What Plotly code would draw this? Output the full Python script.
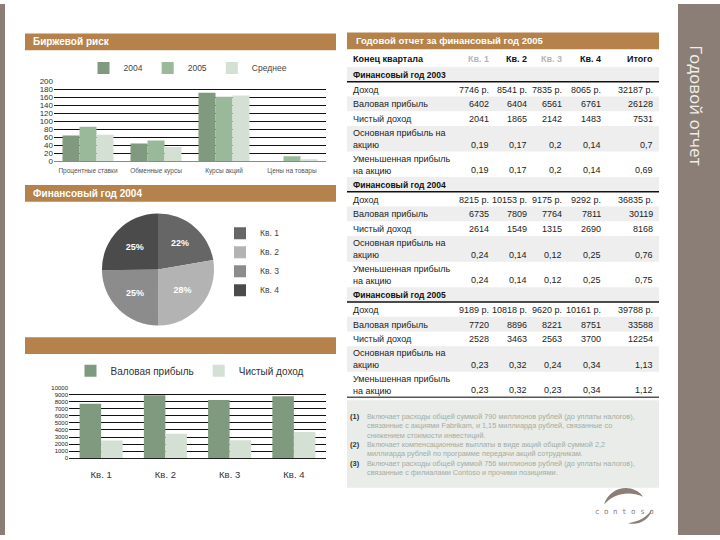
import plotly.graph_objects as go

W, H = 720, 540

# ---- data ----
risk_categories = ["Процентные ставки", "Обменные курсы", "Курсы акций", "Цены на товары"]
risk_2004 = [65, 45, 172, 0]
risk_2005 = [87, 52, 162, 13]
risk_avg = [67, 36, 165, 5]

quarters = ["Кв. 1", "Кв. 2", "Кв. 3", "Кв. 4"]
table_columns = ["Конец квартала", "Кв. 1", "Кв. 2", "Кв. 3", "Кв. 4", "Итого"]
row_labels = ["Доход", "Валовая прибыль", "Чистый доход",
              "Основная прибыль на<br>акцию", "Уменьшенная прибыль<br>на акцию"]

revenue_2003 = [7746, 8541, 7835, 8065, 32187]
gross_2003 = [6402, 6404, 6561, 6761, 26128]
net_2003 = [2041, 1865, 2142, 1483, 7531]
eps_basic_2003 = [0.19, 0.17, 0.2, 0.14, 0.7]
eps_diluted_2003 = [0.19, 0.17, 0.2, 0.14, 0.69]

revenue_2004 = [8215, 10153, 9175, 9292, 36835]
gross_2004 = [6735, 7809, 7764, 7811, 30119]
net_2004 = [2614, 1549, 1315, 2690, 8168]
eps_basic_2004 = [0.24, 0.14, 0.12, 0.25, 0.76]
eps_diluted_2004 = [0.24, 0.14, 0.12, 0.25, 0.75]

revenue_2005 = [9189, 10818, 9620, 10161, 39788]
gross_2005 = [7720, 8896, 8221, 8751, 33588]
net_2005 = [2528, 3463, 2563, 3700, 12254]
eps_basic_2005 = [0.23, 0.32, 0.24, 0.34, 1.13]
eps_diluted_2005 = [0.23, 0.32, 0.23, 0.34, 1.12]

footnotes = [
    "Включает расходы общей суммой 790 миллионов рублей (до уплаты налогов),<br>"
    "связанные с акциями Fabrikam, и 1,15 миллиарда рублей, связанные со<br>"
    "снижением стоимости инвестиций.",
    "Включает компенсационные выплаты в виде акций общей суммой 2,2<br>"
    "миллиарда рублей по программе передачи акций сотрудникам.",
    "Включает расходы общей суммой 756 миллионов рублей (до уплаты налогов),<br>"
    "связанные с филиалами Contoso и прочими позициями.",
]

# ---- styling ----
BROWN = "#b4824a"
SIDEBAR = "#8b7e77"
C_DARK = "#7f9a7f"
C_MID = "#9ab89a"
C_LIGHT = "#d4e0d4"
PIE_COLORS = ["#666666", "#b3b3b3", "#8c8c8c", "#4b4b4b"]
FONT = "Liberation Sans"


def px(x):
    return x / W


def py(y):
    return 1 - y / H


shapes = []
annotations = []


def rect(x0, y0, x1, y1, color):
    shapes.append(dict(type="rect", xref="paper", yref="paper", x0=px(x0), x1=px(x1),
                       y0=py(y1), y1=py(y0), fillcolor=color, line_width=0, layer="below"))


def hline(x0, x1, y, color="#111", width=1.5):
    shapes.append(dict(type="line", xref="paper", yref="paper", x0=px(x0), x1=px(x1),
                       y0=py(y), y1=py(y), line=dict(color=color, width=width)))


def text(x, y, s, size=9, color="#222", xanchor="left", yanchor="middle", align="left", family=FONT, **kw):
    annotations.append(dict(x=px(x), y=py(y), xref="paper", yref="paper", text=s, showarrow=False,
                            xanchor=xanchor, yanchor=yanchor, align=align,
                            font=dict(size=size, color=color, family=family), **kw))


fig = go.Figure()

# top: stock-market risk bars
for name, vals, col, off in [("2004", risk_2004, C_DARK, -0.375),
                             ("2005", risk_2005, C_MID, -0.125),
                             ("Среднее", risk_avg, C_LIGHT, 0.125)]:
    fig.add_trace(go.Bar(x=risk_categories, y=vals, name=name, marker_color=col, marker_line_width=0,
                         width=0.25, offset=off, xaxis="x", yaxis="y", legend="legend"))

# pie: 2004 revenue per quarter
fig.add_trace(go.Pie(labels=quarters, values=revenue_2004[:4], sort=False, direction="clockwise",
                     rotation=0, marker=dict(colors=PIE_COLORS, line=dict(width=0)),
                     texttemplate="<b>%{percent:.0%}</b>", textposition="inside",
                     insidetextfont=dict(color="white", size=9, family=FONT),
                     domain=dict(x=[px(101), px(215)], y=[py(327), py(213)]),
                     legend="legend3"))

# bottom: 2005 gross profit / net income
fig.add_trace(go.Bar(x=quarters, y=gross_2005[:4], name="Валовая прибыль", marker_color=C_DARK,
                     marker_line_width=0, width=0.335, offset=-0.335, xaxis="x2", yaxis="y2", legend="legend2"))
fig.add_trace(go.Bar(x=quarters, y=net_2005[:4], name="Чистый доход", marker_color=C_LIGHT,
                     marker_line_width=0, width=0.335, offset=0, xaxis="x2", yaxis="y2", legend="legend2"))

# ---- slide decoration ----
rect(0, 0, 5, 540, SIDEBAR)
rect(678, 0, 720, 540, SIDEBAR)
text(697, 103, "Годовой отчет", size=17, color="#f2ede8", xanchor="center", textangle=90,
     family="Open Sans")

rect(25, 30, 336, 47, BROWN)
text(31, 38.5, "<b>Биржевой риск</b>", size=10, color="white")
rect(25, 184, 336, 201, BROWN)
text(31, 192.5, "<b>Финансовый год 2004</b>", size=10, color="white")
rect(25, 339, 336, 356, BROWN)

# ---- table ----
TX0, TX1 = 347, 659
LABEL_X = 351
COL_RIGHT = [491, 529, 564, 603, 655]

rect(TX0, 29, TX1, 46, BROWN)
text(354, 37.5, "<b>Годовой отчет за финансовый год 2005</b>", size=9.5, color="white")

y = 47
text(LABEL_X, y + 8.5, "<b>" + table_columns[0] + "</b>", size=9, color="#111")
for j, c in enumerate(table_columns[1:]):
    col = "#b5b5b5" if j in (0, 2) else "#111"
    text(COL_RIGHT[j], y + 8.5, "<b>" + c + "</b>", size=9, color=col, xanchor="right")
y += 17

sections = [
    ("Финансовый год 2003", [revenue_2003, gross_2003, net_2003, eps_basic_2003, eps_diluted_2003]),
    ("Финансовый год 2004", [revenue_2004, gross_2004, net_2004, eps_basic_2004, eps_diluted_2004]),
    ("Финансовый год 2005", [revenue_2005, gross_2005, net_2005, eps_basic_2005, eps_diluted_2005]),
]


def fmt(i, v):
    if i == 0:
        return f"{v} р."
    if i in (1, 2):
        return str(v)
    return str(v).replace(".", ",")


for title, rows in sections:
    rect(TX0, y, TX1, y + 15, "#eeeeee")
    text(LABEL_X, y + 8, "<b>" + title + "</b>", size=8.5, color="#111")
    y += 15
    hline(TX0, TX1, y)
    for i, (label, vals) in enumerate(zip(row_labels, rows)):
        h = 26 if i >= 3 else 15
        if i % 2 == 1:
            rect(TX0, y, TX1, y + h, "#eeeeee")
        text(LABEL_X, y + h / 2 + 0.5, label, size=9, color="#222")
        vy = y + h - 7 if i >= 3 else y + h / 2 + 0.5
        for j, v in enumerate(vals):
            text(COL_RIGHT[j], vy, fmt(i, v), size=9, color="#222", xanchor="right")
        y += h
hline(TX0, TX1, y, color="#555")

# footnotes
rect(TX0, 403, TX1, 492, "#e9ece9")
fy = [413, 441, 461]
for k, (note, yy) in enumerate(zip(footnotes, fy)):
    text(348, yy, f"<b>({k + 1})</b>", size=7.5, color="#333", yanchor="top")
    text(365, yy, note, size=7.3, color="#a3ada3", yanchor="top")

# contoso logo
shapes.append(dict(type="path", xref="paper", yref="paper", fillcolor=SIDEBAR, line_width=0,
                   path=f"M {px(604)},{py(509)} C {px(610)},{py(490)} {px(633)},{py(487)} {px(643)},{py(501)} "
                        f"C {px(630)},{py(495)} {px(614)},{py(497)} {px(604)},{py(509)} Z"))
shapes.append(dict(type="path", xref="paper", yref="paper", fillcolor=SIDEBAR, line_width=0,
                   path=f"M {px(628)},{py(528)} C {px(640)},{py(531)} {px(650)},{py(523)} {px(652)},{py(514)} "
                        f"C {px(646)},{py(523)} {px(638)},{py(526)} {px(628)},{py(528)} Z"))
text(624, 516, "c o n t o s o", size=7.5, color=SIDEBAR, xanchor="center", family="DejaVu Sans Mono")

fig.update_layout(
    width=W, height=H,
    margin=dict(l=0, r=0, t=0, b=0),
    paper_bgcolor="white", plot_bgcolor="white",
    font=dict(family=FONT, color="#333"),
    barmode="group",
    xaxis=dict(domain=[px(54), px(326)], anchor="y", showgrid=False, showline=True, linecolor="#8a8a8a",
               ticks="", tickfont=dict(size=6.5, color="#555"), ticklabelstandoff=3, fixedrange=True),
    yaxis=dict(domain=[py(160), py(79)], anchor="x", range=[0, 200], dtick=20, gridcolor="#111",
               gridwidth=1, zeroline=False, showline=False, ticks="", tickfont=dict(size=8, color="#333"),
               fixedrange=True),
    xaxis2=dict(domain=[px(69), px(326)], anchor="y2", showgrid=False, showline=True, linecolor="#222",
                ticks="", tickfont=dict(size=9.5, color="#333"), ticklabelstandoff=7, fixedrange=True),
    yaxis2=dict(domain=[py(462), py(390)], anchor="x2", range=[0, 10000], dtick=1000, tickformat="d",
                gridcolor="#111", gridwidth=1, zeroline=False, showline=False, ticks="",
                tickfont=dict(size=6, color="#222"), fixedrange=True),
    legend=dict(orientation="h", x=px(188), xanchor="center", y=py(65), yanchor="middle",
                font=dict(size=8.5, color="#444"), bgcolor="rgba(0,0,0,0)", itemwidth=30),
    legend2=dict(orientation="h", x=px(190), xanchor="center", y=py(373), yanchor="middle",
                 font=dict(size=10, color="#333"), bgcolor="rgba(0,0,0,0)", itemwidth=30),
    legend3=dict(orientation="v", x=px(220), xanchor="left", y=py(262), yanchor="middle",
                 font=dict(size=8.5, color="#444"), bgcolor="rgba(0,0,0,0)", itemwidth=30),
    shapes=shapes,
    annotations=annotations,
    showlegend=True,
)

# pin the figure to the page corner so slide coordinates line up
fig.write_html("out.html", config={"displayModeBar": False}, post_script=(
    "document.body.style.margin='0';"
    "var d=document.getElementById('{plot_id}');"
    "d.style.position='absolute';d.style.left='0px';d.style.top='0px';"
))
